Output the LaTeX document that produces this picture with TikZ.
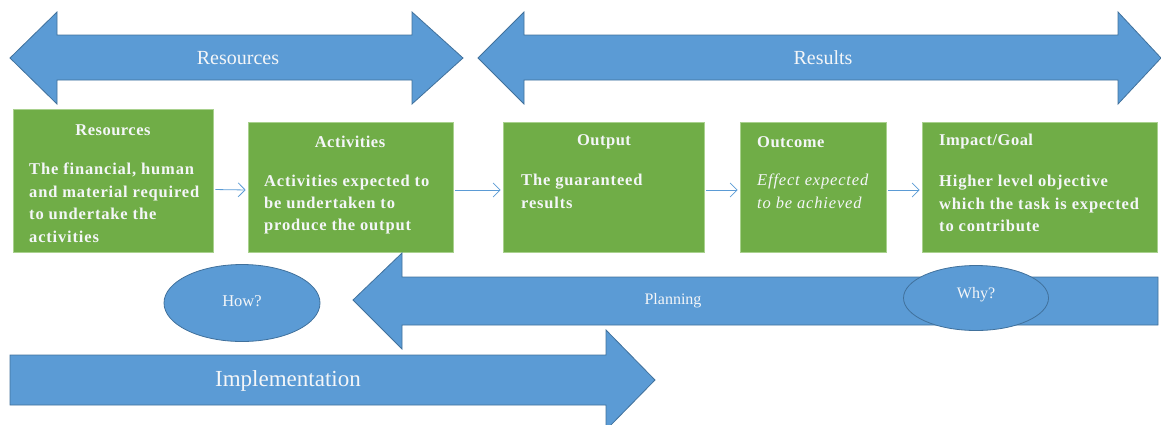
\documentclass[tikz,border=0pt]{standalone}
\usepackage{fontspec}
\setmainfont{Liberation Serif}
\newfontfamily\spacedserif[LetterSpace=5]{Liberation Serif}
\newfontfamily\lightspaced[LetterSpace=3]{Liberation Serif}
\usetikzlibrary{arrows.meta,shapes.geometric}
\definecolor{barblue}{HTML}{5B9BD5}
\definecolor{barline}{HTML}{41719C}
\definecolor{boxgreen}{HTML}{70AD47}
\definecolor{boxline}{HTML}{A9D18E}
\definecolor{txtwhite}{HTML}{F4F6F8}
\tikzset{
  bar/.style={fill=barblue, draw=barline, line width=0.8pt, line join=miter},
  gbox/.style={fill=boxgreen, draw=boxline, line width=0.6pt, inner sep=0pt},
  btitle/.style={text=txtwhite, font=\lightspaced\fontsize{16.5}{22}\selectfont\bfseries, inner sep=0pt},
  bbody/.style={text=txtwhite, font=\spacedserif\fontsize{16.5}{22.4}\selectfont\bfseries, align=left, inner sep=0pt, anchor=north west},
  bartext/.style={text=txtwhite, inner sep=0pt},
  conn/.style={draw=barblue, line width=0.8pt, -{Straight Barb[length=7pt,width=14pt]}, shorten <=2pt, shorten >=2pt},
  blob/.style={ellipse, fill=barblue, draw=barline, line width=0.8pt, inner sep=0pt},
}
\begin{document}
\begin{tikzpicture}[x=1pt, y=-1pt]
\useasboundingbox (0,0) rectangle (1161,424);
\clip (0,0) rectangle (1161,424);
% top arrows
\draw[bar] (10,58) -- (57,12) -- (57,35) -- (412,35) -- (412,12) -- (463,58) -- (412,104) -- (412,80) -- (57,80) -- (57,104) -- cycle;
\node[bartext, font=\fontsize{20}{22}\selectfont] (resbar) at (238,58) {Resources};
\draw[bar] (478,58) -- (524,12) -- (524,35) -- (1118,35) -- (1118,12) -- (1161,58) -- (1118,104) -- (1118,80) -- (524,80) -- (524,104) -- cycle;
\node[bartext, font=\fontsize{20}{22}\selectfont] (resultbar) at (823,58) {Results};
% boxes
\node[gbox, minimum width=200pt, minimum height=143pt] (res) at (113,180.5) {};
\node[gbox, minimum width=205pt, minimum height=130pt] (act) at (350.5,187) {};
\node[gbox, minimum width=201pt, minimum height=130pt] (out) at (603.5,187) {};
\node[gbox, minimum width=146pt, minimum height=130pt] (outc) at (813,187) {};
\node[gbox, minimum width=235pt, minimum height=130pt] (imp) at (1039.5,187) {};
% box texts
\node[btitle] (rest) at (113,130) {Resources};
\node[bbody] (resb) at (29,163) {The financial, human\\and material required\\to undertake the\\activities};
\node[btitle] (actt) at (350,142) {Activities};
\node[bbody] (actb) at (264,174.5) {Activities expected to\\be undertaken to\\produce the output};
\node[btitle] (outt) at (604,142) {Output};
\node[bbody] (outb) at (521,174) {The guaranteed\\results};
\node[btitle, anchor=west] (outct) at (757,142) {Outcome};
\node[bbody, font=\spacedserif\fontsize{16.5}{22.4}\selectfont\itshape] (outcb) at (757,174) {Effect expected\\to be achieved};
\node[btitle, anchor=west] (impt) at (939,142) {Impact/Goal};
\node[bbody] (impb) at (939,175) {Higher level objective\\which the task is expected\\to contribute};
% connectors
\draw[conn] ([yshift=-9pt]res.east) -- ([yshift=-3pt]act.west);
\draw[conn] ([yshift=-3pt]act.east) -- ([yshift=-3pt]out.west);
\draw[conn] ([yshift=-3pt]out.east) -- ([yshift=-3pt]outc.west);
\draw[conn] ([yshift=-3pt]outc.east) -- ([yshift=-3pt]imp.west);
% planning arrow
\draw[bar] (353,300) -- (402,253) -- (402,277) -- (1158,277) -- (1158,325) -- (402,325) -- (402,349) -- cycle;
\node[bartext, font=\fontsize{16}{18}\selectfont] (plan) at (673,301) {Planning};
% ellipses
\node[blob, minimum width=156pt, minimum height=77pt] (how) at (242,303) {};
\node[bartext, font=\fontsize{16.5}{18}\selectfont] (howt) at (242,301) {How?};
\node[blob, minimum width=145pt, minimum height=65pt] (why) at (976,298) {};
\node[bartext, font=\fontsize{16}{18}\selectfont] (whyt) at (976,295) {Why?};
% implementation arrow
\draw[bar] (10,355) -- (606,355) -- (606,330) -- (655,380) -- (606,430) -- (606,405) -- (10,405) -- cycle;
\node[bartext, font=\fontsize{23}{26}\selectfont] (impl) at (288,381) {Implementation};
\end{tikzpicture}
\end{document}
